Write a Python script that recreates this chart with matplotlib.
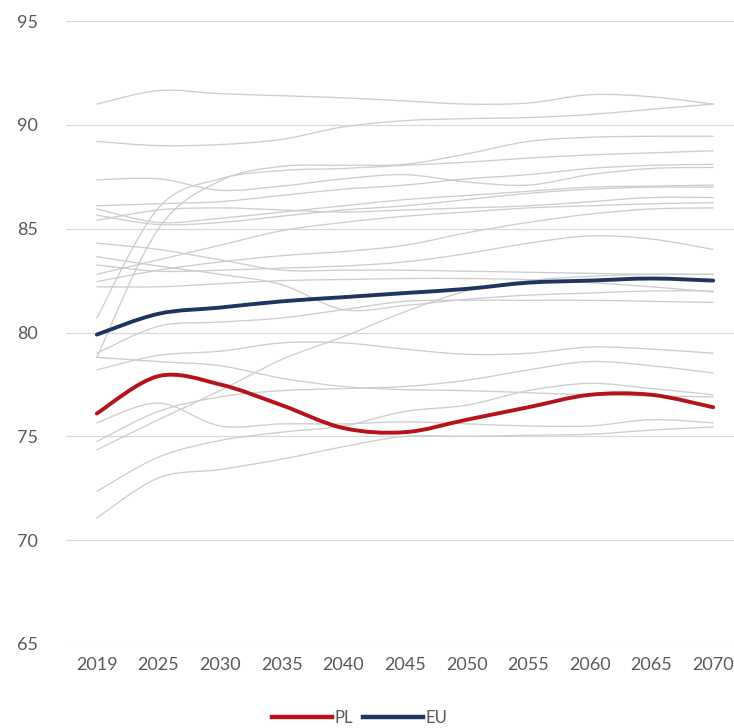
import numpy as np
import matplotlib
matplotlib.use("Agg")
import matplotlib.pyplot as plt
from matplotlib.path import Path
from matplotlib.patches import PathPatch
from matplotlib.lines import Line2D

years = ["2019", "2025", "2030", "2035", "2040", "2045", "2050", "2055", "2060", "2065", "2070"]

pl = [76.1, 77.9, 77.5, 76.5, 75.4, 75.2, 75.8, 76.4, 77.0, 77.0, 76.4]
eu = [79.9, 80.9, 81.2, 81.5, 81.7, 81.9, 82.1, 82.4, 82.5, 82.6, 82.5]

# other member states (grey background lines)
others = [
    [91.0, 91.65, 91.5, 91.4, 91.3, 91.15, 91.0, 91.05, 91.45, 91.35, 91.0],
    [89.2, 89.0, 89.05, 89.3, 89.9, 90.2, 90.3, 90.35, 90.5, 90.75, 91.0],
    [78.8, 85.0, 87.3, 88.0, 88.05, 88.1, 88.6, 89.2, 89.4, 89.45, 89.45],
    [87.35, 87.4, 86.85, 87.05, 87.4, 87.6, 87.25, 87.1, 87.6, 87.9, 87.95],
    [80.7, 86.0, 87.4, 87.8, 87.9, 88.05, 88.2, 88.4, 88.55, 88.65, 88.75],
    [86.1, 86.2, 86.3, 86.6, 86.9, 87.1, 87.4, 87.6, 87.9, 88.05, 88.1],
    [85.95, 85.3, 85.5, 85.8, 86.1, 86.4, 86.6, 86.8, 87.0, 87.05, 87.1],
    [85.4, 85.9, 86.0, 85.9, 85.8, 85.9, 86.0, 86.1, 86.3, 86.5, 86.5],
    [85.65, 85.2, 85.3, 85.6, 85.9, 86.1, 86.4, 86.7, 86.9, 87.0, 87.0],
    [82.8, 83.5, 84.2, 84.9, 85.3, 85.6, 85.8, 86.0, 86.1, 86.2, 86.25],
    [83.25, 82.95, 83.0, 83.1, 83.2, 83.4, 83.8, 84.3, 84.65, 84.5, 84.0],
    [82.45, 83.0, 83.4, 83.7, 83.9, 84.2, 84.8, 85.3, 85.7, 85.95, 86.0],
    [84.3, 84.0, 83.5, 83.0, 83.0, 83.0, 82.95, 82.9, 82.85, 82.8, 82.8],
    [82.2, 82.2, 82.35, 82.5, 82.55, 82.6, 82.6, 82.55, 82.4, 82.2, 81.95],
    [83.65, 83.2, 82.8, 82.3, 81.1, 81.3, 81.6, 81.8, 81.9, 82.0, 82.0],
    [79.0, 80.3, 80.5, 80.7, 81.1, 81.5, 81.55, 81.55, 81.55, 81.5, 81.45],
    [78.2, 78.9, 79.1, 79.5, 79.5, 79.2, 78.95, 79.0, 79.3, 79.2, 79.0],
    [78.8, 78.6, 78.4, 77.8, 77.4, 77.25, 77.2, 77.1, 77.0, 76.95, 76.9],
    [74.35, 75.8, 77.2, 78.7, 79.8, 81.0, 82.0, 82.5, 82.7, 82.8, 82.8],
    [74.75, 76.2, 76.9, 77.2, 77.3, 77.4, 77.7, 78.2, 78.6, 78.4, 78.05],
    [72.35, 74.0, 74.8, 75.2, 75.5, 76.2, 76.5, 77.2, 77.55, 77.3, 77.0],
    [71.07, 73.0, 73.4, 73.9, 74.5, 75.0, 75.0, 75.05, 75.1, 75.3, 75.45],
    [75.65, 76.6, 75.5, 75.6, 75.6, 75.7, 75.6, 75.5, 75.5, 75.8, 75.65],
]


""" smoothed line like excel: catmull-rom turned into bezier segments """
def smooth_path(vals):
    x = np.arange(len(vals), dtype=float)
    y = np.asarray(vals, dtype=float)
    pts = np.column_stack([x, y])
    verts = [pts[0]]
    codes = [Path.MOVETO]
    n = len(pts)
    for i in range(n - 1):
        p0 = pts[i - 1] if i > 0 else pts[i]
        p1 = pts[i]
        p2 = pts[i + 1]
        p3 = pts[i + 2] if i + 2 < n else pts[i + 1]
        c1 = p1 + (p2 - p0) / 6.0
        c2 = p2 - (p3 - p1) / 6.0
        verts += [c1, c2, p2]
        codes += [Path.CURVE4] * 3
    return Path(verts, codes)


def draw_line(ax, vals, color, lw, z):
    patch = PathPatch(smooth_path(vals), facecolor="none", edgecolor=color,
                      lw=lw, zorder=z, capstyle="round", joinstyle="round")
    ax.add_patch(patch)


def main():
    plt.rcParams["font.family"] = ["Lato", "DejaVu Sans"]
    fig = plt.figure(figsize=(7.34, 7.28), dpi=100)
    ax = fig.add_axes([66 / 734, 84 / 728, 678 / 734, 623 / 728])

    for vals in others:
        draw_line(ax, vals, "#cdcdcd", 0.95, 2)
    draw_line(ax, pl, "#b5121b", 2.8, 4)
    draw_line(ax, eu, "#1f3460", 2.8, 5)

    ax.set_xlim(-0.5, len(years) - 0.5)
    ax.set_ylim(65, 95)
    ax.set_yticks(range(65, 96, 5))
    ax.set_xticks(range(len(years)))
    ax.set_xticklabels(years)
    ax.grid(axis="y", color="#d9d9d9", lw=0.9, zorder=0)
    ax.set_axisbelow(True)
    for s in ax.spines.values():
        s.set_visible(False)
    ax.tick_params(axis="both", length=0, labelsize=13, colors="#595959")
    ax.tick_params(axis="y", pad=20)
    ax.tick_params(axis="x", pad=9)

    handles = [Line2D([], [], color="#b5121b", lw=3.2),
               Line2D([], [], color="#1f3460", lw=3.2)]
    fig.legend(handles, ["PL", "EU"], loc="lower center", ncol=2,
               bbox_to_anchor=(0.49, -0.018), frameon=False, fontsize=12,
               handlelength=3.6, handletextpad=0.15, columnspacing=0.6,
               labelcolor="#595959")

    fig.savefig("out.png", dpi=100, facecolor="white")


if __name__ == "__main__":
    main()
